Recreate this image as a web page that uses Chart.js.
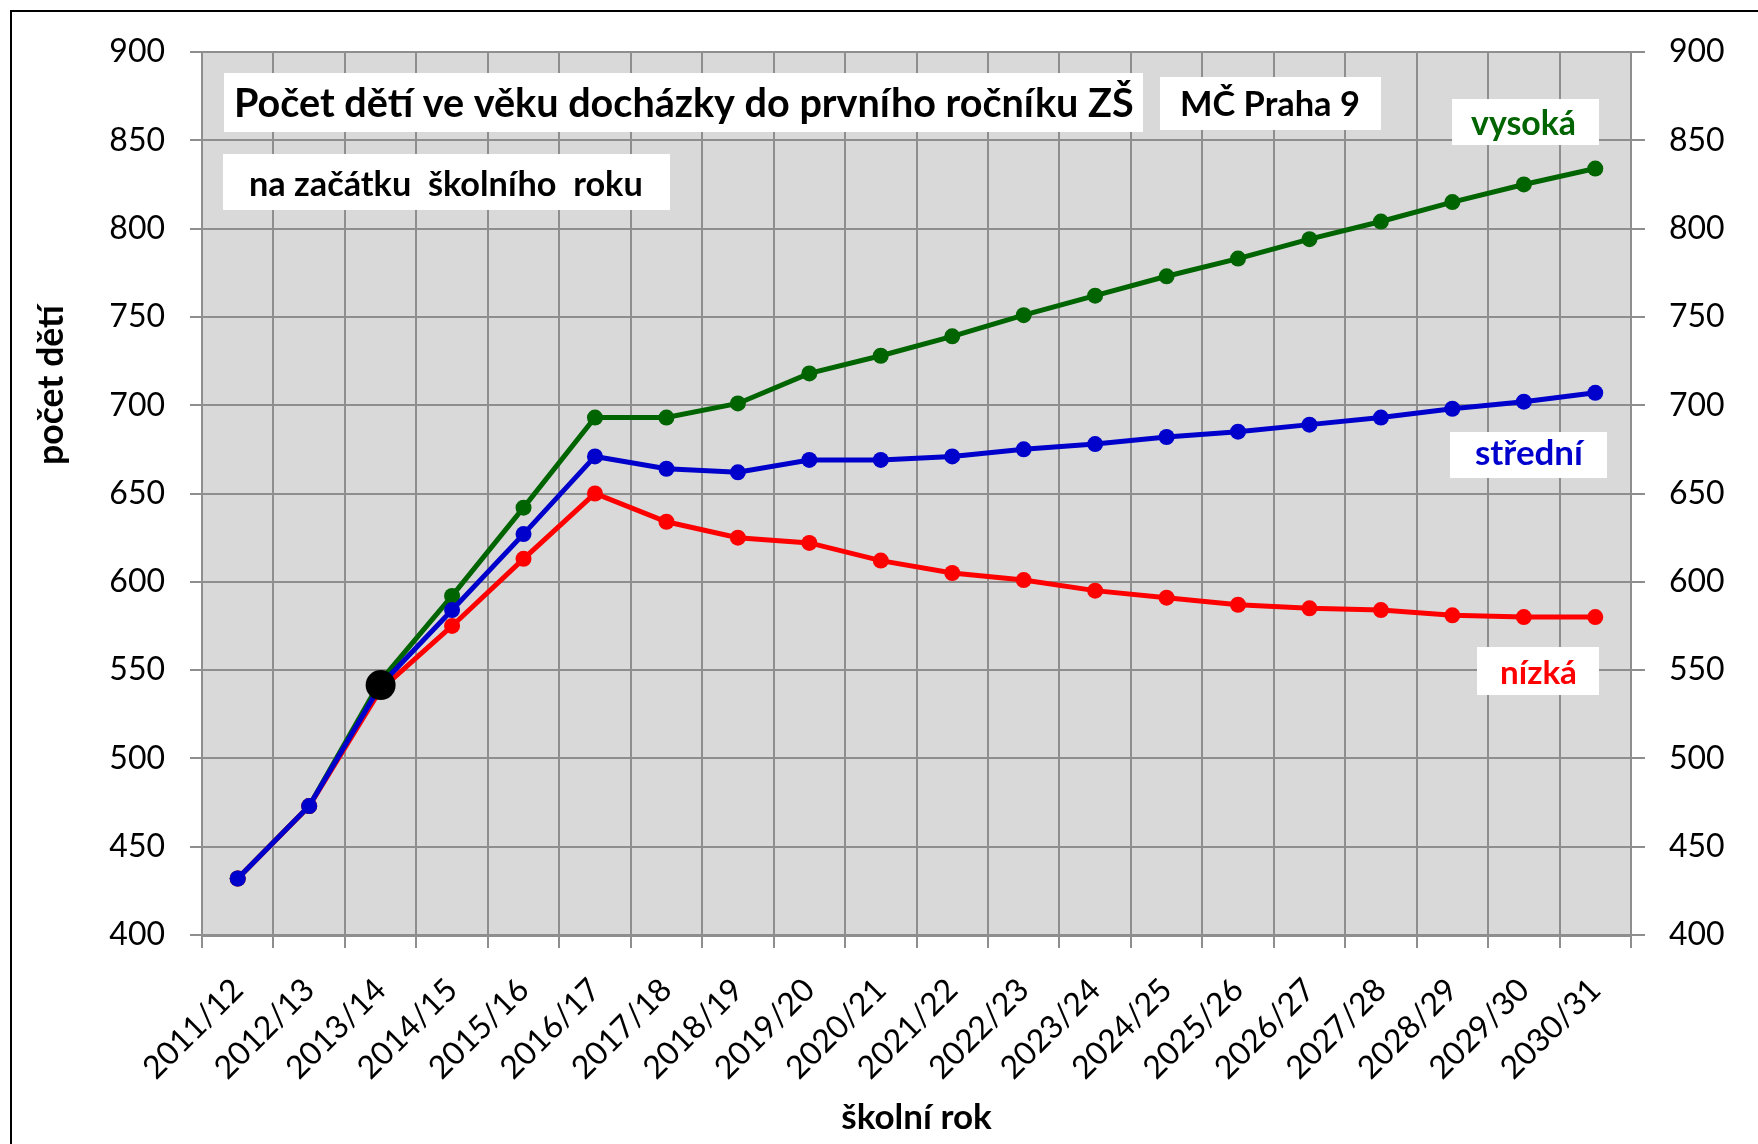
<!DOCTYPE html>
<html>
<head>
<meta charset="utf-8">
<title>Počet dětí – MČ Praha 9</title>
<script src="https://cdn.jsdelivr.net/npm/chart.js@4.4.1/dist/chart.umd.min.js"></script>
<style>
  html, body { margin: 0; padding: 0; background: #fff; }
  canvas { display: block; }
</style>
</head>
<body>
<canvas id="chart" width="1758" height="1144"></canvas>
<script>
// školní roky
const years = ['2011/12', '2012/13', '2013/14', '2014/15', '2015/16', '2016/17', '2017/18',
  '2018/19', '2019/20', '2020/21', '2021/22', '2022/23', '2023/24', '2024/25', '2025/26',
  '2026/27', '2027/28', '2028/29', '2029/30', '2030/31'];

// varianty prognózy
const vysoka  = [432, 473, 544, 592, 642, 693, 693, 701, 718, 728, 739, 751, 762, 773, 783, 794, 804, 815, 825, 834];
const stredni = [432, 473, 541.5, 584, 627, 671, 664, 662, 669, 669, 671, 675, 678, 682, 685, 689, 693, 698, 702, 707];
const nizka   = [432, 473, 539, 575, 613, 650, 634, 625, 622, 612, 605, 601, 595, 591, 587, 585, 584, 581, 580, 580];
// skutečnost (velký černý bod)
const skutecnost = [null, null, 541.5, null, null, null, null, null, null, null,
  null, null, null, null, null, null, null, null, null, null];

const yTicks = [400, 450, 500, 550, 600, 650, 700, 750, 800, 850, 900];

const FONT = 'Lato';
const GRID = '#8e8e8e';

// text boxes: [text, colour, box x1, y1, x2, y2, text left, text width, text centre y]
const boxes = [
  ['Počet dětí ve věku docházky do prvního ročníku ZŠ', '#000', 224, 73, 1143, 132, 234, 900, 104],
  ['MČ Praha 9', '#000', 1160, 77, 1381, 130, 1180, 180, 105],
  ['na začátku  školního  roku', '#000', 223, 154, 670, 210, 249, 394, 185],
  ['vysoká', '#006400', 1452, 99, 1599, 145, 1471, 105, 124],
  ['střední', '#0000cc', 1450, 432, 1607, 478, 1475, 108, 454],
  ['nízká', '#ff0000', 1477, 647, 1599, 695, 1500, 77, 673]
];

function fitSize(ctx, text, size, width) {
  ctx.font = 'bold ' + size + 'px ' + FONT;
  const w = ctx.measureText(text).width;
  return size * width / w;
}

const decor = {
  id: 'decor',
  beforeDraw(chart) {
    const {ctx, chartArea: a} = chart;
    ctx.save();
    ctx.fillStyle = '#fff';
    ctx.fillRect(0, 0, chart.width, chart.height);
    ctx.fillStyle = '#d9d9d9';
    ctx.fillRect(a.left, a.top, a.right - a.left, a.bottom - a.top);
    // outer frame (left + top only visible)
    ctx.strokeStyle = '#000';
    ctx.lineWidth = 2;
    ctx.beginPath();
    ctx.moveTo(11, chart.height);
    ctx.lineTo(11, 11);
    ctx.lineTo(chart.width, 11);
    ctx.stroke();
    ctx.restore();
  },
  beforeDatasetsDraw(chart) {
    const ctx = chart.ctx;
    ctx.save();
    boxes.forEach(b => {
      ctx.fillStyle = '#fff';
      ctx.fillRect(b[2], b[3], b[4] - b[2], b[5] - b[3]);
      const size = fitSize(ctx, b[0], 34, b[7]);
      ctx.font = 'bold ' + size + 'px ' + FONT;
      ctx.fillStyle = b[1];
      ctx.textAlign = 'left';
      ctx.textBaseline = 'middle';
      ctx.fillText(b[0], b[6], b[8]);
    });
    ctx.restore();
  },
  afterDraw(chart) {
    const ctx = chart.ctx;
    ctx.save();
    const t = 'počet dětí';
    const size = fitSize(ctx, t, 32, 160);
    ctx.font = 'bold ' + size + 'px ' + FONT;
    ctx.fillStyle = '#000';
    ctx.translate(52, 385);
    ctx.rotate(-Math.PI / 2);
    ctx.textAlign = 'center';
    ctx.textBaseline = 'middle';
    ctx.fillText(t, 0, 0);
    ctx.restore();
  }
};

function line(data, color) {
  return {
    data: data,
    borderColor: color,
    backgroundColor: color,
    borderWidth: 5,
    pointRadius: 8,
    pointBorderWidth: 0,
    pointHoverRadius: 8,
    tension: 0,
    fill: false
  };
}

const tickFont = {family: FONT, size: 32};

new Chart(document.getElementById('chart').getContext('2d'), {
  type: 'line',
  data: {
    labels: years,
    datasets: [
      {data: skutecnost, showLine: false, pointRadius: 15, pointHoverRadius: 15,
        pointBorderWidth: 0, backgroundColor: '#000', borderColor: '#000'},
      line(stredni, '#0000cc'),
      line(nizka, '#ff0000'),
      line(vysoka, '#006400')
    ]
  },
  options: {
    responsive: false,
    devicePixelRatio: 1,
    animation: false,
    layout: {padding: {top: 52, left: 0, right: 0, bottom: 0}},
    plugins: {legend: {display: false}, tooltip: {enabled: false}},
    scales: {
      x: {
        offset: true,
        grid: {offset: true, color: GRID, lineWidth: 2, tickLength: 13},
        border: {color: GRID, width: 3},
        ticks: {color: '#000', font: tickFont, minRotation: 45, maxRotation: 45,
          autoSkip: false, padding: 23},
        title: {display: true, text: 'školní rok', color: '#000',
          font: {family: FONT, size: 35, weight: 'bold'}, padding: {top: 0, bottom: 5}},
        afterFit: s => { s.height = 209; }
      },
      y: {
        position: 'left',
        min: 400, max: 900,
        afterBuildTicks: s => { s.ticks = yTicks.map(v => ({value: v})); },
        grid: {color: GRID, lineWidth: 2, tickLength: 12},
        border: {color: GRID, width: 2},
        ticks: {color: '#000', font: tickFont, padding: 25},
        afterFit: s => { s.width = 202; }
      },
      y2: {
        position: 'right',
        min: 400, max: 900,
        afterBuildTicks: s => { s.ticks = yTicks.map(v => ({value: v})); },
        grid: {drawOnChartArea: false, color: GRID, lineWidth: 2, tickLength: 14},
        border: {color: GRID, width: 2},
        ticks: {color: '#000', font: tickFont, padding: 24},
        afterFit: s => { s.width = 127; }
      }
    }
  },
  plugins: [decor]
});
</script>
</body>
</html>
